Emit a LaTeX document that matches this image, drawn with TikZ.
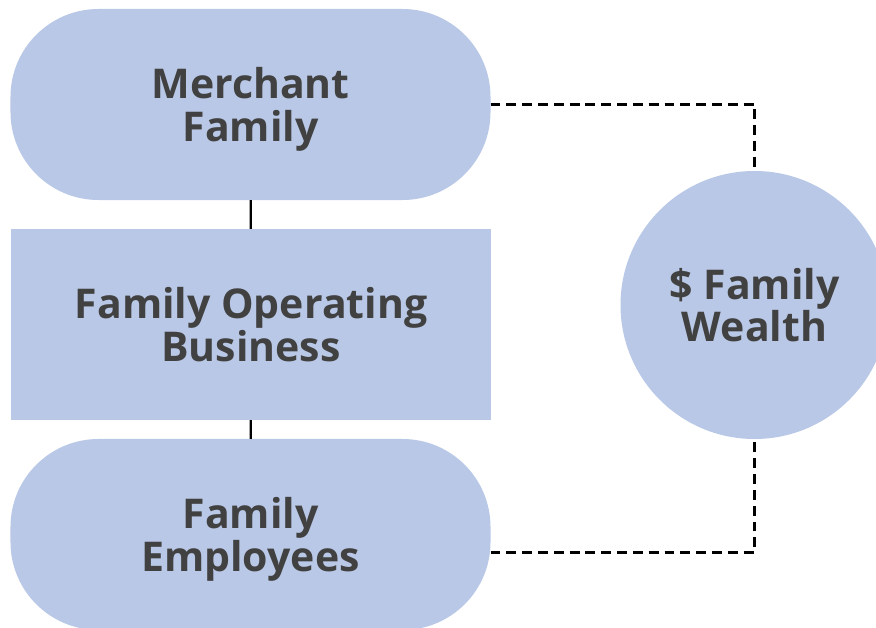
\documentclass[tikz,border=0pt]{standalone}
\usepackage{fontspec}
\setmainfont{Open Sans}
\usetikzlibrary{positioning,shapes,calc}
\definecolor{paleblue}{HTML}{B9C8E6}
\definecolor{charcoal}{HTML}{414141}

\begin{document}
\begin{tikzpicture}[x=0.03cm, y=-0.03cm,
    label text/.style={align=center, text=charcoal, text depth=0pt,
        font=\fontsize{35}{36.5}\selectfont\bfseries},
    box/.style={label text, fill=paleblue, inner sep=0pt, outer sep=0pt,
        minimum width=14.4cm, minimum height=5.73cm},
    pill/.style={box, rounded corners=2.64cm},
    link/.style={black, line width=1.8pt},
    dashlink/.style={black, line width=2.3pt, dash pattern=on 8.5pt off 5pt}]
    \useasboundingbox (0,0) rectangle (876,628);

    % Left column
    \node[pill] (merchant) at (250.5,104.5) {Merchant\\Family};
    \node[box] (business) at (251,324.5) {Family Operating\\Business};
    \node[pill] (employees) at (250.5,534.5) {Family\\Employees};

    % Wealth circle
    \node[label text, circle, fill=paleblue, inner sep=0pt, outer sep=0pt,
        minimum size=8.04cm] (wealth) at (754.5,305) {\$ Family\\Wealth};

    % Links
    \draw[link] (merchant) -- (business);
    \draw[link] (business) -- (employees);
    \draw[dashlink] (merchant.east) -| (wealth.north);
    \draw[dashlink] ([yshift=-0.53cm]employees.east) -| (wealth.south);
\end{tikzpicture}
\end{document}
